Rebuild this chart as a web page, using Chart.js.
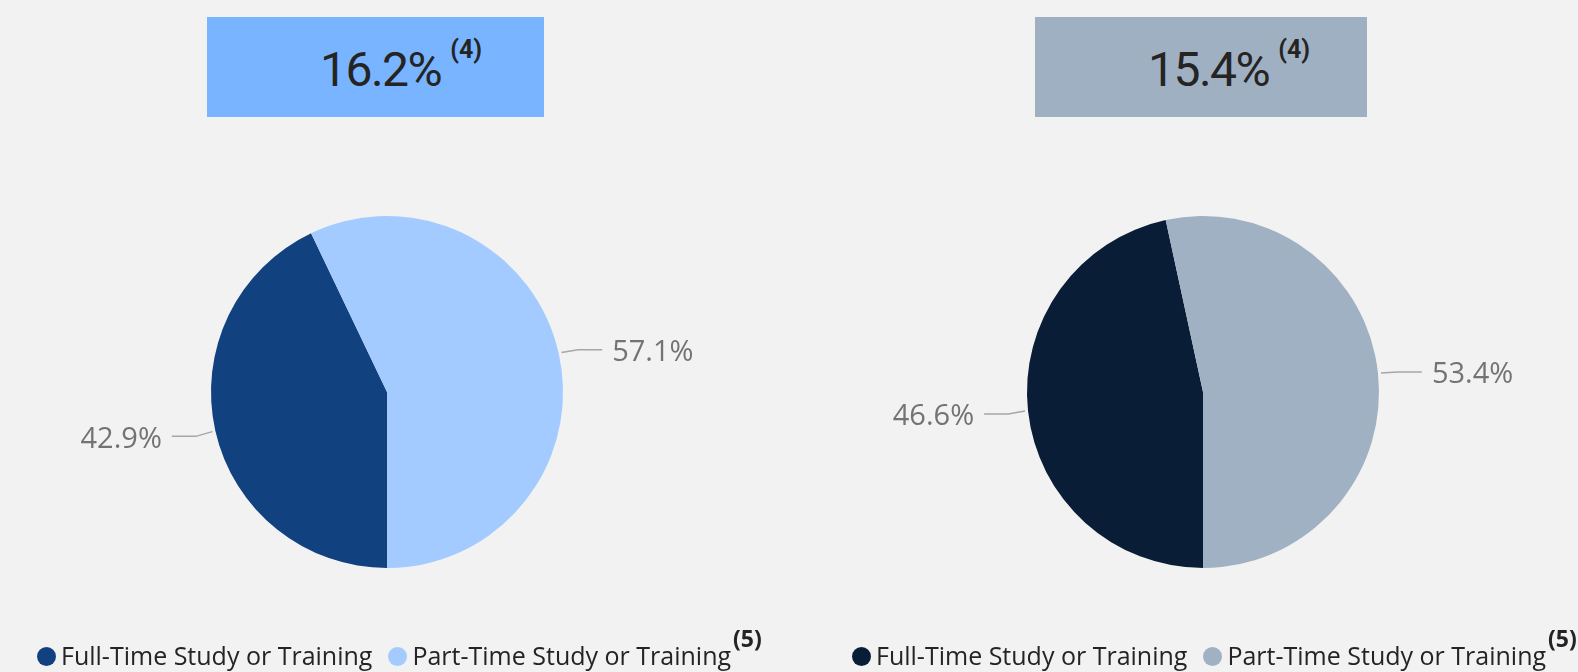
<!DOCTYPE html>
<html lang="en">
<head>
    <meta charset="UTF-8">
    <title>Study or Training</title>
    <script src="https://cdn.jsdelivr.net/npm/chart.js"></script>
    <style>
        html, body { margin: 0; padding: 0; background: #f2f2f2; width: 1578px; height: 672px; overflow: hidden; }
        .box { position: absolute; top: 17px; height: 100px; }
        .headline { position: absolute; top: 42px; font-family: Roboto, sans-serif; font-size: 48px; color: #252423; letter-spacing: -1.5px; white-space: nowrap; line-height: 56px; }
        .headline sup { font-size: 25px; line-height: 25px; font-weight: bold; letter-spacing: 0; vertical-align: top; position: relative; top: -5px; margin-left: 9px; }
        canvas { position: absolute; top: 133px; }
        .legend { position: absolute; top: 638px; font-family: 'Open Sans', sans-serif; font-size: 25px; color: #252423; white-space: nowrap; line-height: 34px; }
        .legend .item { display: inline-block; margin-right: 16px; }
        .legend .dot { display: inline-block; width: 19px; height: 19px; border-radius: 50%; margin-right: 5px; vertical-align: -1px; }
        .legend sup { font-weight: bold; font-size: 23px; line-height: 23px; vertical-align: top; position: relative; top: -11px; margin-left: 2px; }
    </style>
    <script>
        const categories = ['Full-Time Study or Training', 'Part-Time Study or Training'];
        const leftValues = [42.9, 57.1];
        const rightValues = [46.6, 53.4];
        const headlines = ['16.2%', '15.4%'];
        const headlineNote = '(4)';
        const legendNote = '(5)';
        const leftColors = ['#11417e', '#a3cbff'];
        const rightColors = ['#0a1d36', '#a0b1c3'];

        // outside labels with little leader lines
        const outsideLabels = {
            id: 'outsideLabels',
            afterDatasetsDraw(chart) {
                const ctx = chart.ctx;
                const meta = chart.getDatasetMeta(0);
                const values = chart.data.datasets[0].data;
                ctx.save();
                ctx.font = '29px "Open Sans", sans-serif';
                ctx.strokeStyle = '#a6a6a6';
                ctx.fillStyle = '#737373';
                ctx.lineWidth = 1.5;
                ctx.textBaseline = 'middle';
                meta.data.forEach((arc, i) => {
                    const p = arc.getProps(['x', 'y', 'startAngle', 'endAngle', 'outerRadius'], true);
                    const mid = (p.startAngle + p.endAngle) / 2;
                    const dx = Math.cos(mid), dy = Math.sin(mid);
                    const side = dx < 0 ? -1 : 1;
                    const x0 = p.x + dx * (p.outerRadius + 3);
                    const y0 = p.y + dy * (p.outerRadius + 3);
                    const x1 = x0 + dx * 17;
                    const y1 = y0 + dy * 17 + 1;
                    const x2 = x1 + side * 24;
                    ctx.beginPath();
                    ctx.moveTo(x0, y0);
                    ctx.lineTo(x1, y1);
                    ctx.lineTo(x2, y1);
                    ctx.stroke();
                    ctx.textAlign = side < 0 ? 'right' : 'left';
                    ctx.fillText(values[i].toFixed(1) + '%', x2 + side * 10, y1 + 3);
                });
                ctx.restore();
            }
        };

        function makePie(id, values, colors) {
            new Chart(document.getElementById(id), {
                type: 'pie',
                data: {
                    labels: categories,
                    datasets: [{
                        data: values,
                        backgroundColor: colors,
                        borderWidth: 0,
                        radius: 176
                    }]
                },
                options: {
                    responsive: false,
                    animation: false,
                    rotation: 180,
                    layout: { padding: 0 },
                    plugins: {
                        legend: { display: false },
                        tooltip: { enabled: false }
                    }
                },
                plugins: [outsideLabels]
            });
        }

        function makeLegend(id, colors) {
            const el = document.getElementById(id);
            el.innerHTML = categories.map((c, i) =>
                '<span class="item"><span class="dot" style="background:' + colors[i] + '"></span>' + c +
                (i === categories.length - 1 ? '<sup>' + legendNote + '</sup>' : '') + '</span>'
            ).join('');
        }

        document.addEventListener('DOMContentLoaded', function() {
            document.getElementById('h1').innerHTML = headlines[0] + '<sup>' + headlineNote + '</sup>';
            document.getElementById('h2').innerHTML = headlines[1] + '<sup>' + headlineNote + '</sup>';
            makePie('pieLeft', leftValues, leftColors);
            makePie('pieRight', rightValues, rightColors);
            makeLegend('legLeft', leftColors);
            makeLegend('legRight', rightColors);
        });
    </script>
</head>
<body>
    <div class="box" style="left:207px; width:337px; background:#78b4ff;"></div>
    <div class="box" style="left:1035px; width:332px; background:#a0b0c3;"></div>
    <div class="headline" id="h1" style="left:320px;"></div>
    <div class="headline" id="h2" style="left:1148px;"></div>
    <canvas id="pieLeft" width="768" height="518" style="left:3px;"></canvas>
    <canvas id="pieRight" width="740" height="518" style="left:833px;"></canvas>
    <div class="legend" id="legLeft" style="left:37px;"></div>
    <div class="legend" id="legRight" style="left:852px;"></div>
</body>
</html>
